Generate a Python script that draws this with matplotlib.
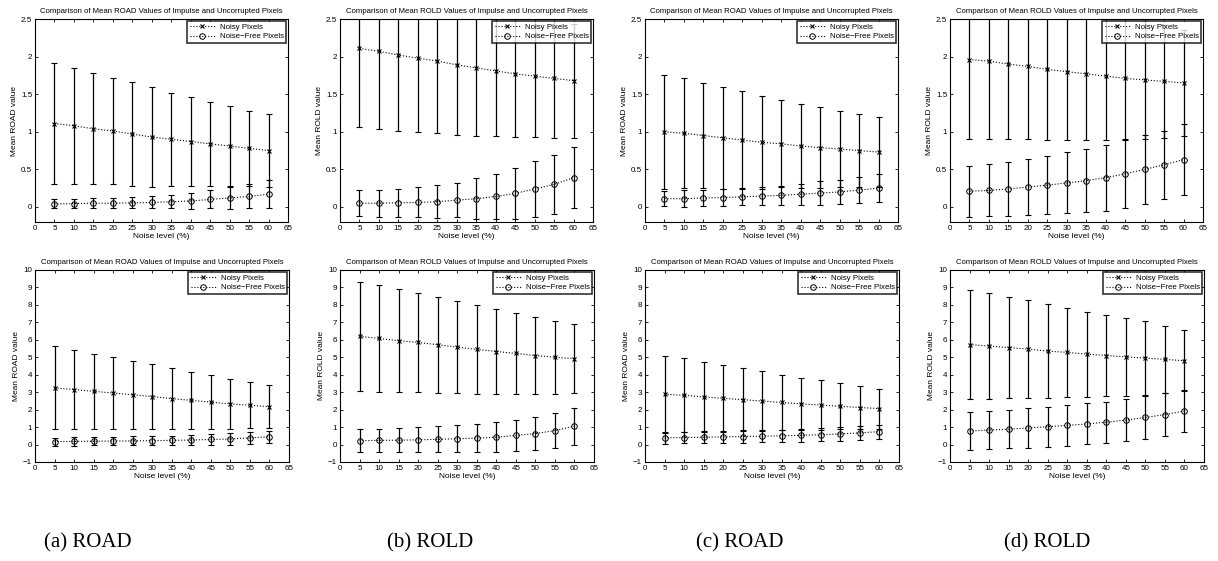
import matplotlib
matplotlib.use("Agg")
import matplotlib.pyplot as plt
from matplotlib.ticker import FuncFormatter, MultipleLocator
import numpy as np

noise_levels = [5, 10, 15, 20, 25, 30, 35, 40, 45, 50, 55, 60]

# (a) top-left ROAD
a1_noisy_mean = [1.11, 1.08, 1.04, 1.01, 0.97, 0.93, 0.90, 0.87, 0.84, 0.81, 0.78, 0.75]
a1_noisy_std = [0.81, 0.77, 0.74, 0.71, 0.69, 0.66, 0.62, 0.59, 0.56, 0.53, 0.50, 0.48]
a1_free_mean = [0.04, 0.045, 0.05, 0.05, 0.055, 0.06, 0.07, 0.08, 0.10, 0.12, 0.14, 0.17]
a1_free_std = [0.06, 0.065, 0.065, 0.07, 0.075, 0.08, 0.09, 0.11, 0.12, 0.15, 0.16, 0.19]

# (b) top ROLD
b1_noisy_mean = [2.11, 2.07, 2.02, 1.98, 1.94, 1.89, 1.85, 1.81, 1.77, 1.74, 1.71, 1.68]
b1_noisy_std = [1.05, 1.03, 1.01, 0.98, 0.96, 0.93, 0.90, 0.87, 0.84, 0.81, 0.79, 0.76]
b1_free_mean = [0.05, 0.05, 0.055, 0.06, 0.07, 0.09, 0.11, 0.14, 0.18, 0.24, 0.30, 0.39]
b1_free_std = [0.17, 0.18, 0.185, 0.20, 0.22, 0.23, 0.27, 0.30, 0.34, 0.37, 0.39, 0.41]

# (c) top ROAD
c1_noisy_mean = [1.00, 0.98, 0.95, 0.92, 0.89, 0.86, 0.84, 0.81, 0.79, 0.77, 0.75, 0.73]
c1_noisy_std = [0.76, 0.73, 0.70, 0.68, 0.65, 0.62, 0.58, 0.56, 0.54, 0.51, 0.48, 0.46]
c1_free_mean = [0.11, 0.11, 0.12, 0.125, 0.135, 0.145, 0.155, 0.17, 0.185, 0.20, 0.225, 0.25]
c1_free_std = [0.10, 0.11, 0.11, 0.115, 0.115, 0.125, 0.125, 0.14, 0.155, 0.16, 0.175, 0.19]

# (d) top ROLD
d1_noisy_mean = [1.96, 1.94, 1.90, 1.87, 1.83, 1.80, 1.77, 1.74, 1.71, 1.69, 1.67, 1.65]
d1_noisy_std = [1.06, 1.04, 1.00, 0.97, 0.94, 0.91, 0.88, 0.85, 0.82, 0.79, 0.75, 0.71]
d1_free_mean = [0.21, 0.22, 0.24, 0.265, 0.29, 0.32, 0.35, 0.39, 0.44, 0.50, 0.56, 0.63]
d1_free_std = [0.34, 0.345, 0.36, 0.37, 0.385, 0.405, 0.42, 0.44, 0.46, 0.46, 0.45, 0.475]

# (a) bottom ROAD
a2_noisy_mean = [3.25, 3.15, 3.05, 2.95, 2.85, 2.75, 2.63, 2.53, 2.43, 2.33, 2.25, 2.17]
a2_noisy_std = [2.37, 2.25, 2.15, 2.06, 1.95, 1.84, 1.73, 1.63, 1.53, 1.42, 1.32, 1.23]
a2_free_mean = [0.17, 0.18, 0.19, 0.20, 0.21, 0.22, 0.24, 0.26, 0.29, 0.32, 0.38, 0.45]
a2_free_std = [0.23, 0.24, 0.24, 0.25, 0.26, 0.26, 0.27, 0.28, 0.31, 0.33, 0.34, 0.35]

# (b) bottom ROLD
b2_noisy_mean = [6.20, 6.08, 5.95, 5.85, 5.72, 5.58, 5.45, 5.33, 5.22, 5.10, 5.00, 4.92]
b2_noisy_std = [3.14, 3.05, 2.96, 2.86, 2.75, 2.65, 2.54, 2.43, 2.32, 2.21, 2.09, 1.98]
b2_free_mean = [0.22, 0.24, 0.25, 0.27, 0.30, 0.33, 0.37, 0.42, 0.52, 0.63, 0.80, 1.05]
b2_free_std = [0.655, 0.665, 0.695, 0.72, 0.745, 0.77, 0.805, 0.845, 0.885, 0.945, 1.0, 1.065]

# (c) bottom ROAD
c2_noisy_mean = [2.88, 2.82, 2.73, 2.65, 2.57, 2.49, 2.41, 2.33, 2.26, 2.19, 2.12, 2.06]
c2_noisy_std = [2.19, 2.11, 2.00, 1.91, 1.80, 1.70, 1.60, 1.50, 1.41, 1.32, 1.23, 1.15]
c2_free_mean = [0.38, 0.40, 0.42, 0.44, 0.46, 0.48, 0.50, 0.53, 0.56, 0.61, 0.67, 0.74]
c2_free_std = [0.33, 0.33, 0.335, 0.345, 0.35, 0.35, 0.36, 0.365, 0.38, 0.39, 0.39, 0.40]

# (d) bottom ROLD
d2_noisy_mean = [5.72, 5.65, 5.55, 5.47, 5.35, 5.28, 5.18, 5.10, 5.02, 4.95, 4.88, 4.80]
d2_noisy_std = [3.12, 3.03, 2.90, 2.79, 2.69, 2.56, 2.44, 2.34, 2.23, 2.12, 1.90, 1.76]
d2_free_mean = [0.78, 0.83, 0.88, 0.95, 1.02, 1.10, 1.18, 1.28, 1.40, 1.55, 1.72, 1.92]
d2_free_std = [1.075, 1.085, 1.10, 1.125, 1.135, 1.155, 1.175, 1.185, 1.20, 1.215, 1.215, 1.19]

metrics = ["ROAD", "ROLD", "ROAD", "ROLD"]
captions = ["(a) ROAD", "(b) ROLD", "(c) ROAD", "(d) ROLD"]
legend_labels = ["Noisy Pixels", "Noise\u2212Free Pixels"]

top_row = [
    (a1_noisy_mean, a1_noisy_std, a1_free_mean, a1_free_std),
    (b1_noisy_mean, b1_noisy_std, b1_free_mean, b1_free_std),
    (c1_noisy_mean, c1_noisy_std, c1_free_mean, c1_free_std),
    (d1_noisy_mean, d1_noisy_std, d1_free_mean, d1_free_std),
]
bottom_row = [
    (a2_noisy_mean, a2_noisy_std, a2_free_mean, a2_free_std),
    (b2_noisy_mean, b2_noisy_std, b2_free_mean, b2_free_std),
    (c2_noisy_mean, c2_noisy_std, c2_free_mean, c2_free_std),
    (d2_noisy_mean, d2_noisy_std, d2_free_mean, d2_free_std),
]

W, H = 1218, 561
fig = plt.figure(figsize=(W / 100, H / 100), dpi=100)
plt.rcParams['font.family'] = ['Liberation Sans', 'DejaVu Sans']
plt.rcParams['axes.unicode_minus'] = True

fmt = FuncFormatter(lambda v, p: ("%g" % v).replace("-", "\u2212"))


def px_axes(x0, y0, x1, y1):
    return fig.add_axes([x0 / W, 1 - y1 / H, (x1 - x0) / W, (y1 - y0) / H])


def draw(ax, data, metric, ylim, ystep):
    nm, ns, fm, fs = data
    ax.errorbar(noise_levels, nm, yerr=ns, fmt='none', ecolor='black',
                elinewidth=0.9, capsize=2, capthick=0.8, zorder=2)
    ax.errorbar(noise_levels, fm, yerr=fs, fmt='none', ecolor='black',
                elinewidth=0.9, capsize=2, capthick=0.8, zorder=2)
    l1, = ax.plot(noise_levels, nm, linestyle=':', color='black', linewidth=0.8,
                  marker='x', markersize=2.5, markeredgewidth=0.8, zorder=3)
    l2, = ax.plot(noise_levels, fm, linestyle=':', color='black', linewidth=0.8,
                  marker='o', markersize=4, markerfacecolor='none',
                  markeredgewidth=0.7, zorder=3)
    ax.set_xlim(0, 65)
    ax.set_ylim(*ylim)
    ax.xaxis.set_major_locator(MultipleLocator(5))
    ax.yaxis.set_major_locator(MultipleLocator(ystep))
    ax.yaxis.set_major_formatter(fmt)
    ax.tick_params(direction='in', top=True, right=True, length=2.5, width=0.6,
                   labelsize=5.8, pad=2)
    for s in ax.spines.values():
        s.set_linewidth(0.8)
    ax.set_title("Comparison of Mean %s Values of Impulse and Uncorrupted Pixels" % metric,
                 fontsize=5.6, pad=4)
    ax.set_xlabel("Noise level (%)", fontsize=6, labelpad=1)
    ax.set_ylabel("Mean %s value" % metric, fontsize=6, labelpad=2)
    leg = ax.legend([l1, l2], legend_labels, loc='upper right', fontsize=5.7,
                    frameon=True, fancybox=False, borderpad=0.3, handlelength=3.2,
                    handletextpad=0.6, labelspacing=0.25, borderaxespad=0.25)
    leg.get_frame().set_edgecolor('black')
    leg.get_frame().set_linewidth(1.2)


col_lefts = [35, 340, 645, 950]
for i in range(4):
    ax = px_axes(col_lefts[i], 19, col_lefts[i] + 253, 222)
    draw(ax, top_row[i], metrics[i], (-0.2, 2.5), 0.5)
    ax2 = px_axes(col_lefts[i], 270, col_lefts[i] + 254, 462)
    draw(ax2, bottom_row[i], metrics[i], (-1, 10), 1)

caption_x = [88, 430, 740, 1047]
for cx, cap in zip(caption_x, captions):
    fig.text(cx / W, 1 - 543 / H, cap, ha='center', va='center', fontsize=15,
             family=['Liberation Serif', 'DejaVu Serif'])

fig.savefig("out.png", dpi=100)
